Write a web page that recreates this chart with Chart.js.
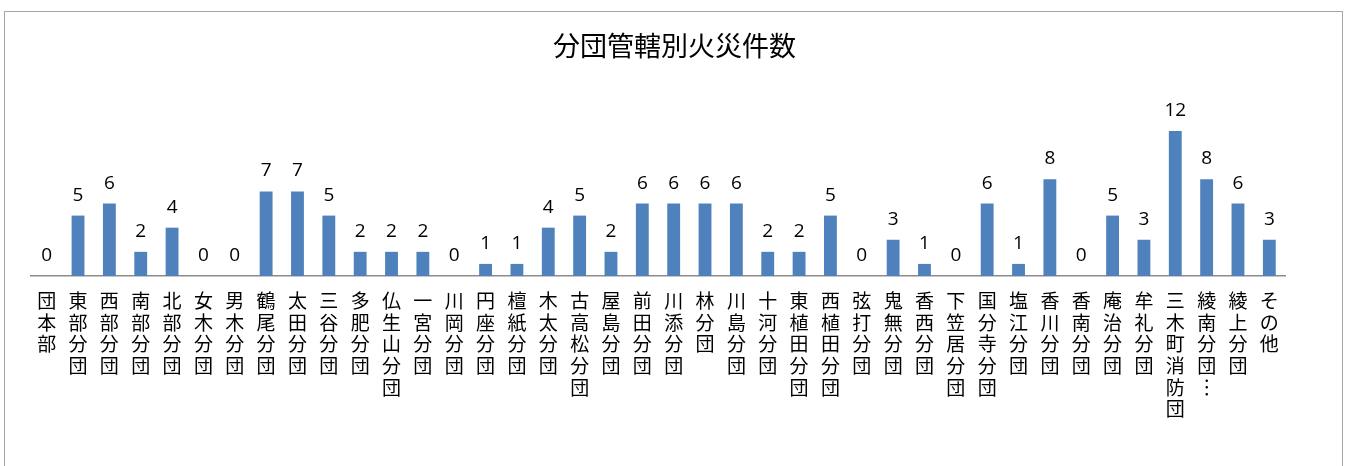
<!DOCTYPE html>
<html>
<head>
<meta charset="utf-8">
<script src="https://cdn.jsdelivr.net/npm/chart.js@4"></script>
<style>
  html, body { margin: 0; padding: 0; background: #fff; }
  #wrap { position: relative; width: 1349px; height: 466px; overflow: hidden; }
  #frame { position: absolute; left: 4px; top: 11px; width: 1337px; height: 470px; border: 1px solid #a6a6a6; pointer-events: none; }
  canvas { position: absolute; left: 0; top: 0; }
</style>
</head>
<body>
<div id="wrap">
  <canvas id="chartKasai" width="1349" height="466"></canvas>
  <div id="frame"></div>
</div>
<script>
// data
const bundan = [
  "団本部", "東部分団", "西部分団", "南部分団", "北部分団", "女木分団", "男木分団", "鶴尾分団",
  "太田分団", "三谷分団", "多肥分団", "仏生山分団", "一宮分団", "川岡分団", "円座分団", "檀紙分団",
  "木太分団", "古高松分団", "屋島分団", "前田分団", "川添分団", "林分団", "川島分団", "十河分団",
  "東植田分団", "西植田分団", "弦打分団", "鬼無分団", "香西分団", "下笠居分団", "国分寺分団", "塩江分団",
  "香川分団", "香南分団", "庵治分団", "牟礼分団", "三木町消防団", "綾南分団…", "綾上分団", "その他"
];
const kensu = [
  0, 5, 6, 2, 4, 0, 0, 7,
  7, 5, 2, 2, 2, 0, 1, 1,
  4, 5, 2, 6, 6, 6, 6, 2,
  2, 5, 0, 3, 1, 0, 6, 1,
  8, 0, 5, 3, 12, 8, 6, 3
];
const judul = "分団管轄別火災件数";

// label tegak: satu huruf per baris
const labelTegak = bundan.map(s => Array.from(s).map(c => c === "…" ? "︙" : c));

// tulis angka di atas batang + judul di tengah kanvas
const angkaBatang = {
  id: "angkaBatang",
  afterDatasetsDraw(chart) {
    const ctx = chart.ctx;
    const meta = chart.getDatasetMeta(0);
    ctx.save();
    ctx.fillStyle = "#000";
    ctx.font = "19px 'Open Sans', sans-serif";
    ctx.textAlign = "center";
    ctx.textBaseline = "alphabetic";
    meta.data.forEach((bar, i) => {
      ctx.fillText(String(kensu[i]), bar.x, bar.y - 15);
    });
    ctx.font = "27px 'Noto Sans CJK JP'";
    ctx.textBaseline = "middle";
    ctx.fillText(judul, chart.width / 2, 46);
    ctx.restore();
  }
};

const ctx = document.getElementById("chartKasai");
new Chart(ctx, {
  type: "bar",
  data: {
    labels: labelTegak,
    datasets: [{
      data: kensu,
      backgroundColor: "#4f81bd",
      categoryPercentage: 1,
      barPercentage: 0.41
    }]
  },
  options: {
    responsive: false,
    animation: false,
    layout: { padding: { left: 31, right: 64, top: 131, bottom: 0 } },
    plugins: {
      legend: { display: false },
      tooltip: { enabled: false },
      title: { display: false }
    },
    scales: {
      x: {
        grid: { display: false, drawTicks: false },
        border: { display: true, color: "#8c8c8c", width: 1.5 },
        ticks: {
          autoSkip: false,
          maxRotation: 0,
          minRotation: 0,
          padding: 14,
          color: "#000",
          font: { family: "'Noto Sans CJK JP'", size: 19, lineHeight: 1.14 }
        },
        afterFit(scale) { scale.height = 190; }
      },
      y: {
        display: false,
        min: 0,
        max: 12
      }
    }
  },
  plugins: [angkaBatang]
});
</script>
</body>
</html>
